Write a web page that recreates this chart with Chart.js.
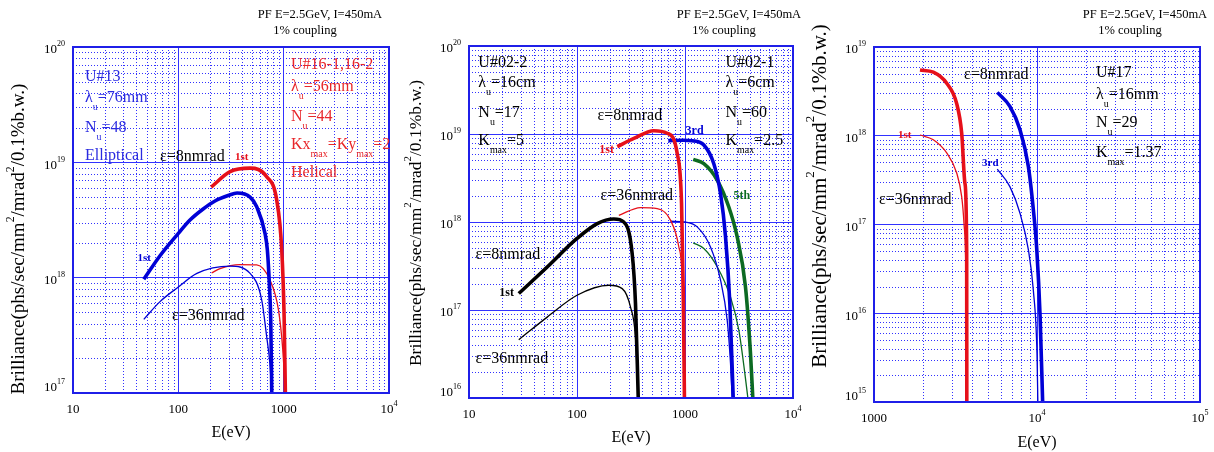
<!DOCTYPE html>
<html>
<head>
<meta charset="utf-8">
<script src="https://cdn.jsdelivr.net/npm/chart.js@4.4.1/dist/chart.umd.min.js"></script>
<style>
html, body { margin: 0; padding: 0; background: #fff; }
#wrap { position: relative; width: 1214px; height: 452px; }
.panel { position: absolute; top: 0; height: 452px; }
</style>
</head>
<body>
<div id="wrap">
  <div class="panel" style="left:0;width:400px"><canvas id="c1"></canvas></div>
  <div class="panel" style="left:400px;width:405px"><canvas id="c2"></canvas></div>
  <div class="panel" style="left:805px;width:409px"><canvas id="c3"></canvas></div>
</div>
<script>
// ---- panel 1 : U#13 (elliptical) and U#16 (helical) ----
const u13E8 = [47, 67, 100, 129, 172, 223, 297, 361, 480, 555, 665, 700, 731, 755, 771];
const u13B8 = [9.7e17, 1.55e18, 2.42e18, 3.16e18, 3.94e18, 4.62e18, 5.15e18, 5.42e18, 5.0e18, 4.12e18, 2.42e18, 1.74e18, 8.9e17, 4e17, 1e17];
const u13E36 = [47, 67, 100, 150, 310, 480, 619, 690, 740, 771];
const u13B36 = [4.35e17, 6.2e17, 8.3e17, 1.09e18, 1.26e18, 1.09e18, 6.4e17, 3.07e17, 1.8e17, 1e17];
const u16E8 = [205, 310, 480, 690, 859, 959, 1010, 1038];
const u16B8 = [6.1e18, 8.3e18, 8.9e18, 7.5e18, 4.7e18, 1.74e18, 4.6e17, 1e17];
const u16E36 = [207, 249, 385, 555, 743, 891, 980, 1038];
const u16B36 = [1.1e18, 1.2e18, 1.3e18, 1.29e18, 9.5e17, 5.3e17, 2.4e17, 1e17];

// ---- panel 2 : U#02-2 and U#02-1 ----
const u022E8 = [28.9, 53, 100, 154, 219, 271, 324, 348, 369];
const u022B8 = [1.54e17, 3.08e17, 6.5e17, 9.6e17, 1.08e18, 1.0e18, 4.4e17, 1.18e17, 1e16];
const u022E36 = [28.9, 53, 100, 197, 262, 313, 348, 369];
const u022B36 = [4.6e16, 8.3e16, 1.47e17, 1.91e17, 1.75e17, 1.08e17, 4.9e16, 1e16];
const u021h1E8 = [236, 336, 514, 684, 847, 929, 962, 988];
const u021h1B8 = [7.2e18, 8.9e18, 1.09e19, 1.02e19, 6.0e18, 1.62e18, 1.8e17, 1e16];
const u021h1E36 = [244, 387, 553, 734, 877, 942, 988];
const u021h1B36 = [1.19e18, 1.46e18, 1.42e18, 1.05e18, 5.2e17, 2.2e17, 1e16];
const u021h3E8 = [701, 975, 1167, 1494, 1848, 2133, 2373, 2601, 2795];
const u021h3B8 = [8.4e18, 8.5e18, 8.4e18, 7.5e18, 4.6e18, 2.1e18, 6.8e17, 1.18e17, 1e16];
const u021h3E36 = [734, 1000, 1297, 1722, 2133, 2460, 2640, 2735];
const u021h3B36 = [1.02e18, 1.0e18, 8.8e17, 5.2e17, 2.18e17, 7.6e16, 2.45e16, 1e16];
const u021h5E8 = [1191, 1494, 1986, 2541, 3040, 3630, 4040, 4245];
const u021h5B8 = [5.14e18, 4.6e18, 3.0e18, 1.49e18, 6.8e17, 1.83e17, 3.2e16, 1e16];
const u021h5E36 = [1191, 1494, 1986, 2640, 3150, 3553, 3820];
const u021h5B36 = [5.8e17, 5.0e17, 3.1e17, 1.4e17, 5.9e16, 2.06e16, 1e16];

// ---- panel 3 : U#17 ----
const u17h1E8 = [1915, 2311, 2793, 3216, 3451, 3614, 3703, 3710];
const u17h1B8 = [5.5e18, 5.2e18, 3.9e18, 2.3e18, 1.07e18, 2.9e17, 5.2e16, 1e15];
const u17h1E36 = [1915, 2311, 2793, 3216, 3451, 3565, 3670, 3706];
const u17h1B36 = [1.02e18, 9.0e17, 6.4e17, 3.8e17, 2.06e17, 1.03e17, 2.2e16, 1e15];
const u17h3E8 = [5704, 6818, 7866, 8850, 9500, 9970, 10450, 10830];
const u17h3B8 = [3.08e18, 2.14e18, 1.17e18, 4.5e17, 1.46e17, 5.2e16, 9.1e15, 1e15];
const u17h3E36 = [5704, 6818, 7866, 8850, 9500, 10000, 10120];
const u17h3B36 = [4.2e17, 2.67e17, 1.34e17, 5.2e16, 1.8e16, 3.5e15, 1e15];

// tick values and their labels (^{..} = superscript)
const xTicks12 = [10, 100, 1000, 10000];
const xLabels12 = ['10', '100', '1000', '10^{4}'];
const xTicks3 = [1000, 10000, 100000];
const xLabels3 = ['1000', '10^{4}', '10^{5}'];
const yTicks1 = [1e17, 1e18, 1e19, 1e20];
const yLabels1 = ['10^{17}', '10^{18}', '10^{19}', '10^{20}'];
const yTicks2 = [1e16, 1e17, 1e18, 1e19, 1e20];
const yLabels2 = ['10^{16}', '10^{17}', '10^{18}', '10^{19}', '10^{20}'];
const yTicks3 = [1e15, 1e16, 1e17, 1e18, 1e19];
const yLabels3 = ['10^{15}', '10^{16}', '10^{17}', '10^{18}', '10^{19}'];

const plotTitle = ['PF E=2.5GeV, I=450mA', '1% coupling'];
const xTitle = 'E(eV)';
const yTitle = 'Brilliance(phs/sec/mm^{2}/mrad^{2}/0.1%b.w.)';

const FONT = "'Liberation Serif', 'Times New Roman', serif";
const BLUE = '#0000d6', RED = '#e6101a', GREEN = '#0c6a22', BLACK = '#000000';
const TBLUE = '#2a2ae0', TRED = '#e8262a';
const GRID = '#3232ff';

// {..} = subscript, ^{..} = superscript
function parseRich(str) {
  const out = [];
  const re = /(\^\{[^}]*\}|\{[^}]*\})/g;
  let last = 0, m;
  while ((m = re.exec(str))) {
    if (m.index > last) out.push({t: str.slice(last, m.index), k: 0});
    if (m[0][0] === '^') out.push({t: m[0].slice(2, -1), k: 2});
    else out.push({t: m[0].slice(1, -1), k: 1});
    last = re.lastIndex;
  }
  if (last < str.length) out.push({t: str.slice(last), k: 0});
  return out;
}

function drawRich(ctx, str, x, y, size, color, bold, align) {
  const parts = parseRich(str);
  const w = bold ? 'bold ' : '';
  const small = size * 0.62;
  let total = 0;
  parts.forEach(p => {
    ctx.font = w + (p.k ? small : size) + 'px ' + FONT;
    p.w = ctx.measureText(p.t).width;
    total += p.w;
  });
  let cx = x;
  if (align === 'right') cx = x - total;
  else if (align === 'center') cx = x - total / 2;
  ctx.fillStyle = color;
  ctx.textAlign = 'left';
  ctx.textBaseline = 'middle';
  parts.forEach(p => {
    ctx.font = w + (p.k ? small : size) + 'px ' + FONT;
    const dy = p.k === 1 ? size * 0.6 : p.k === 2 ? -size * 0.45 : 0;
    ctx.fillText(p.t, cx, y + dy);
    cx += p.w;
  });
}

function paperPlugin(p) {
  return {
    id: 'paper',
    beforeDatasetsDraw(chart) {
      const {ctx, chartArea: a, scales: {x, y}} = chart;
      ctx.save();
      ctx.strokeStyle = GRID;
      ctx.lineWidth = 1;
      ctx.setLineDash([1, 2]);
      ctx.beginPath();
      for (let n = Math.log10(p.xMin); n < Math.log10(p.xMax); n++) {
        for (let k = 2; k < 10; k++) {
          const px = Math.round(x.getPixelForValue(k * Math.pow(10, n))) + 0.5;
          ctx.moveTo(px, a.top); ctx.lineTo(px, a.bottom);
        }
      }
      for (let n = Math.log10(p.yMin); n < Math.log10(p.yMax); n++) {
        for (let k = 2; k < 10; k++) {
          const py = Math.round(y.getPixelForValue(k * Math.pow(10, n))) + 0.5;
          ctx.moveTo(a.left, py); ctx.lineTo(a.right, py);
        }
      }
      ctx.stroke();
      ctx.restore();
    },
    afterDraw(chart) {
      const {ctx, chartArea: a, scales: {x, y}} = chart;
      ctx.save();
      ctx.strokeStyle = '#1f1fe8';
      ctx.lineWidth = 2;
      ctx.strokeRect(a.left, a.top, a.right - a.left, a.bottom - a.top);

      p.yTicks.forEach((v, i) => {
        const py = y.getPixelForValue(v);
        drawRich(ctx, p.yLabels[i], a.left - 8, py + (i === 0 ? -5 : 3), 13, BLACK, false, 'right');
      });
      p.xTicks.forEach((v, i) => {
        const px = x.getPixelForValue(v);
        drawRich(ctx, p.xLabels[i], px, a.bottom + 17, 13, BLACK, false, 'center');
      });

      drawRich(ctx, xTitle, (a.left + a.right) / 2, a.bottom + p.xTitleDy, 16, BLACK, false, 'center');
      ctx.save();
      ctx.translate(p.yTitleX, p.yTitleY);
      ctx.rotate(-Math.PI / 2);
      drawRich(ctx, yTitle, 0, 0, p.yTitleSize, BLACK, false, 'center');
      ctx.restore();

      drawRich(ctx, plotTitle[0], a.right + p.titleDx[0], 15, 12.5, BLACK, false, 'center');
      drawRich(ctx, plotTitle[1], a.right + p.titleDx[1], 31, 12.5, BLACK, false, 'center');

      p.notes.forEach(n => {
        drawRich(ctx, n.t, x.getPixelForValue(n.e), y.getPixelForValue(n.b), n.s || 16, n.c, n.bold, 'left');
      });
      ctx.restore();
    }
  };
}

function curve(es, bs, color, width) {
  return {
    data: es.map((e, i) => ({x: e, y: bs[i]})),
    borderColor: color,
    borderWidth: width,
    pointRadius: 0,
    fill: false,
    cubicInterpolationMode: 'monotone'
  };
}

function makeChart(p) {
  new Chart(document.getElementById(p.id), {
    type: 'line',
    data: { datasets: p.series },
    options: {
      responsive: true,
      maintainAspectRatio: false,
      animation: false,
      events: [],
      layout: { padding: { top: p.top, right: p.right, left: 0, bottom: 0 } },
      plugins: { legend: { display: false }, tooltip: { enabled: false } },
      scales: {
        x: {
          type: 'logarithmic', min: p.xMin, max: p.xMax,
          afterBuildTicks: sc => { sc.ticks = p.xTicks.map(v => ({value: v})); },
          afterFit: sc => { sc.height = 452 - p.bottom; },
          ticks: { display: false },
          grid: { color: GRID, lineWidth: 1, drawTicks: false },
          border: { display: false }
        },
        y: {
          type: 'logarithmic', min: p.yMin, max: p.yMax,
          afterBuildTicks: sc => { sc.ticks = p.yTicks.map(v => ({value: v})); },
          afterFit: sc => { sc.width = p.left; },
          ticks: { display: false },
          grid: { color: GRID, lineWidth: 1, drawTicks: false },
          border: { display: false }
        }
      }
    },
    plugins: [paperPlugin(p)]
  });
}

const THICK = 3.6, THIN = 1.3;

makeChart({
  id: 'c1', xMin: 10, xMax: 1e4, yMin: 1e17, yMax: 1e20,
  left: 73, top: 47, bottom: 393, right: 11,
  xTicks: xTicks12, xLabels: xLabels12, yTicks: yTicks1, yLabels: yLabels1,
  xTitleDy: 40, yTitleX: 19, yTitleY: 239, yTitleSize: 19, titleDx: [-69, -84],
  series: [
    curve(u13E8, u13B8, BLUE, THICK),
    curve(u13E36, u13B36, BLUE, THIN),
    curve(u16E8, u16B8, RED, THICK),
    curve(u16E36, u16B36, RED, THIN)
  ],
  notes: [
    {t: 'U#13', e: 13, b: 5.5e19, c: TBLUE},
    {t: 'λ{u}=76mm', e: 13, b: 3.6e19, c: TBLUE},
    {t: 'N{u}=48', e: 13, b: 2.0e19, c: TBLUE},
    {t: 'Elliptical', e: 13, b: 1.13e19, c: TBLUE},
    {t: 'U#16-1,16-2', e: 1175, b: 7e19, c: TRED},
    {t: 'λ{u}=56mm', e: 1175, b: 4.5e19, c: TRED},
    {t: 'N{u}=44', e: 1175, b: 2.5e19, c: TRED},
    {t: 'Kx{max}=Ky{max}=2', e: 1175, b: 1.41e19, c: TRED},
    {t: 'Helical', e: 1175, b: 8.1e18, c: TRED},
    {t: 'ε=8nmrad', e: 67, b: 1.11e19, c: BLACK},
    {t: '1st', e: 345, b: 1.11e19, c: RED, bold: true, s: 11},
    {t: '1st', e: 41, b: 1.48e18, c: BLUE, bold: true, s: 11},
    {t: 'ε=36nmrad', e: 87, b: 4.65e17, c: BLACK}
  ]
});

makeChart({
  id: 'c2', xMin: 10, xMax: 1e4, yMin: 1e16, yMax: 1e20,
  left: 69, top: 46, bottom: 398, right: 12,
  xTicks: xTicks12, xLabels: xLabels12, yTicks: yTicks2, yLabels: yLabels2,
  xTitleDy: 40, yTitleX: 16, yTitleY: 223, yTitleSize: 17.5, titleDx: [-54, -69],
  series: [
    curve(u022E8, u022B8, BLACK, THICK),
    curve(u022E36, u022B36, BLACK, THIN),
    curve(u021h1E8, u021h1B8, RED, THICK),
    curve(u021h1E36, u021h1B36, RED, THIN),
    curve(u021h3E8, u021h3B8, BLUE, THICK),
    curve(u021h3E36, u021h3B36, BLUE, THIN),
    curve(u021h5E8, u021h5B8, GREEN, THICK),
    curve(u021h5E36, u021h5B36, GREEN, THIN)
  ],
  notes: [
    {t: 'U#02-2', e: 12.2, b: 6.4e19, c: BLACK},
    {t: 'λ{u}=16cm', e: 12.2, b: 3.8e19, c: BLACK},
    {t: 'N{u}=17', e: 12.2, b: 1.73e19, c: BLACK},
    {t: 'K{max}=5', e: 12.2, b: 8.3e18, c: BLACK},
    {t: 'U#02-1', e: 2371, b: 6.4e19, c: BLACK},
    {t: 'λ{u}=6cm', e: 2371, b: 3.8e19, c: BLACK},
    {t: 'N{u}=60', e: 2371, b: 1.73e19, c: BLACK},
    {t: 'K{max}=2.5', e: 2371, b: 8.3e18, c: BLACK},
    {t: 'ε=8nmrad', e: 155, b: 1.6e19, c: BLACK},
    {t: '3rd', e: 1012, b: 1.08e19, c: BLUE, bold: true, s: 12},
    {t: '1st', e: 161, b: 6.6e18, c: RED, bold: true, s: 12},
    {t: '5th', e: 2812, b: 1.97e18, c: GREEN, bold: true, s: 12},
    {t: 'ε=36nmrad', e: 165, b: 2.0e18, c: BLACK},
    {t: 'ε=8nmrad', e: 11.5, b: 4.2e17, c: BLACK},
    {t: '1st', e: 19.1, b: 1.55e17, c: BLACK, bold: true, s: 12},
    {t: 'ε=36nmrad', e: 11.5, b: 2.8e16, c: BLACK}
  ]
});

makeChart({
  id: 'c3', xMin: 1000, xMax: 1e5, yMin: 1e15, yMax: 1e19,
  left: 69, top: 47, bottom: 402, right: 14,
  xTicks: xTicks3, xLabels: xLabels3, yTicks: yTicks3, yLabels: yLabels3,
  xTitleDy: 41, yTitleX: 15, yTitleY: 196, yTitleSize: 21, titleDx: [-55, -70],
  series: [
    curve(u17h1E8, u17h1B8, RED, THICK),
    curve(u17h1E36, u17h1B36, RED, THIN),
    curve(u17h3E8, u17h3B8, BLUE, THICK),
    curve(u17h3E36, u17h3B36, BLUE, THIN)
  ],
  notes: [
    {t: 'U#17', e: 23000, b: 5.1e18, c: BLACK},
    {t: 'λ{u}=16mm', e: 23000, b: 2.9e18, c: BLACK},
    {t: 'N{u}=29', e: 23000, b: 1.4e18, c: BLACK},
    {t: 'K{max}=1.37', e: 23000, b: 6.4e17, c: BLACK},
    {t: 'ε=8nmrad', e: 3565, b: 4.9e18, c: BLACK},
    {t: '1st', e: 1403, b: 1.02e18, c: RED, bold: true, s: 11},
    {t: '3rd', e: 4600, b: 4.9e17, c: BLUE, bold: true, s: 11},
    {t: 'ε=36nmrad', e: 1073, b: 1.9e17, c: BLACK}
  ]
});
</script>
</body>
</html>
